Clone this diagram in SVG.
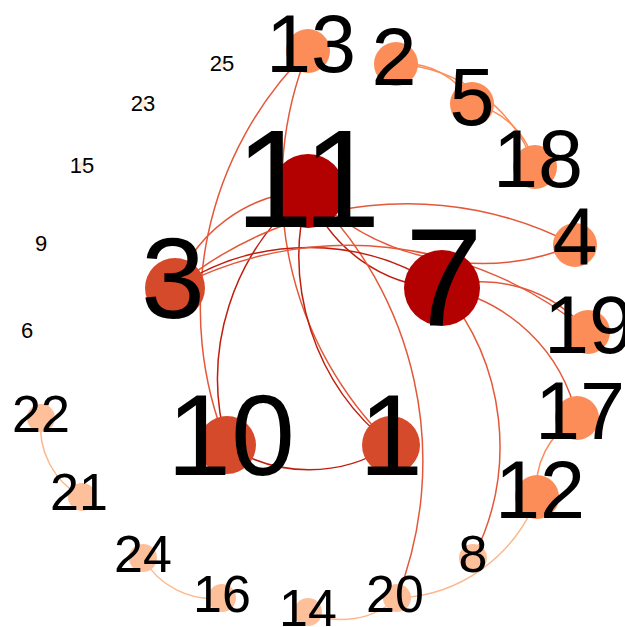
<svg xmlns="http://www.w3.org/2000/svg" width="625" height="627" viewBox="0 0 625 627">
<style>
  .e { fill: none; stroke-width: 1.5; }
  .ed { stroke: #bf1e0e; }
  .em { stroke: #e4583a; }
  .eo { stroke: #fc8d59; }
  .el { stroke: #fdb88c; }
  .n0 { fill: #b30000; }
  .n1 { fill: #d64a2c; }
  .n2 { fill: #fc8d59; }
  .n3 { fill: #fdc09b; }
  .n4 { fill: #fde9d4; }
  text { font-family: "Liberation Sans", Arial, sans-serif; fill: #000; text-anchor: middle; }
  .t0 { font-size: 140px; }
  .t1 { font-size: 115px; }
  .t2 { font-size: 81px; }
  .t3 { font-size: 52px; }
  .t4 { font-size: 22px; }
</style>
<rect width="625" height="627" fill="#fff"/>
<g id="edges">
  <path class="e em" d="M308,51 A362,362 0 0,0 227,445"/>
  <path class="e em" d="M308,51 A362,362 0 0,0 391,445"/>
  <path class="e ed" d="M308,191 A240,240 0 0,0 227,445"/>
  <path class="e ed" d="M308,191 A240,240 0 0,0 391,445"/>
  <path class="e ed" d="M308,191 A149,149 0 0,0 442,288"/>
  <path class="e em" d="M308,191 A148,148 0 0,0 175,288"/>
  <path class="e em" d="M308,191 A245,245 0 0,0 575,245"/>
  <path class="e em" d="M308,191 A375,375 0 0,1 397,598"/>
  <path class="e em" d="M175,288 A362,362 0 0,1 575,245"/>
  <path class="e ed" d="M175,288 A240,240 0 0,1 442,288"/>
  <path class="e em" d="M175,288 A374,374 0 0,1 588,332"/>
  <path class="e em" d="M442,288 A137,137 0 0,1 588,332"/>
  <path class="e em" d="M442,288 A169,169 0 0,1 577,418"/>
  <path class="e em" d="M442,288 A245,245 0 0,1 473,558"/>
  <path class="e ed" d="M227,445 A148,148 0 0,0 391,445"/>
  <path class="e eo" d="M396,64 A77,77 0 0,1 472,104"/>
  <path class="e eo" d="M396,64 A156,156 0 0,1 535,167"/>
  <path class="e eo" d="M472,104 A80,80 0 0,1 535,167"/>
  <path class="e eo" d="M537,497 A80,80 0 0,1 577,418"/>
  <path class="e el" d="M397,598 A155,155 0 0,0 537,497"/>
  <path class="e el" d="M308,612 A81,81 0 0,0 397,598"/>
  <path class="e el" d="M143,558 A80,80 0 0,0 222,598"/>
  <path class="e el" d="M41,418 A80,80 0 0,0 82,497"/>
</g>
<g id="node-25"><circle class="n4" cx="222" cy="64" r="4"/><text class="t4" x="222" y="71">25</text></g>
<g id="node-23"><circle class="n4" cx="143" cy="104" r="4"/><text class="t4" x="143" y="111">23</text></g>
<g id="node-15"><circle class="n4" cx="82" cy="166" r="4"/><text class="t4" x="82" y="173">15</text></g>
<g id="node-9"><circle class="n4" cx="41" cy="244" r="4"/><text class="t4" x="41" y="251">9</text></g>
<g id="node-6"><circle class="n4" cx="27" cy="331" r="4"/><text class="t4" x="27" y="338">6</text></g>
<g id="node-22"><circle class="n3" cx="41" cy="418" r="14"/><text class="t3" x="41" y="432">22</text></g>
<g id="node-21"><circle class="n3" cx="82" cy="497" r="14"/><text class="t3" x="79" y="510">21</text></g>
<g id="node-24"><circle class="n3" cx="143" cy="558" r="14"/><text class="t3" x="143" y="572">24</text></g>
<g id="node-16"><circle class="n3" cx="222" cy="598" r="14"/><text class="t3" x="222" y="612">16</text></g>
<g id="node-14"><circle class="n3" cx="308" cy="612" r="14"/><text class="t3" x="308" y="626">14</text></g>
<g id="node-20"><circle class="n3" cx="397" cy="598" r="14"/><text class="t3" x="395" y="612">20</text></g>
<g id="node-8"><circle class="n3" cx="473" cy="558" r="14"/><text class="t3" x="473" y="572">8</text></g>
<g id="node-12"><circle class="n2" cx="537" cy="497" r="22"/><text class="t2" x="540" y="518">12</text></g>
<g id="node-17"><circle class="n2" cx="577" cy="418" r="22"/><text class="t2" x="580" y="439">17</text></g>
<g id="node-19"><circle class="n2" cx="588" cy="332" r="22"/><text class="t2" x="589" y="353">19</text></g>
<g id="node-4"><circle class="n2" cx="575" cy="245" r="22"/><text class="t2" x="575" y="265">4</text></g>
<g id="node-18"><circle class="n2" cx="535" cy="167" r="22"/><text class="t2" x="538" y="187">18</text></g>
<g id="node-5"><circle class="n2" cx="472" cy="104" r="22"/><text class="t2" x="472" y="125">5</text></g>
<g id="node-2"><circle class="n2" cx="396" cy="64" r="22"/><text class="t2" x="394" y="85">2</text></g>
<g id="node-13"><circle class="n2" cx="308" cy="51" r="22"/><text class="t2" x="311" y="72">13</text></g>
<g id="node-3"><circle class="n1" cx="175" cy="288" r="30"/><text class="t1" x="173" y="318">3</text></g>
<g id="node-10"><circle class="n1" cx="227" cy="445" r="29"/><text class="t1" x="231" y="475">10</text></g>
<g id="node-1"><circle class="n1" cx="391" cy="445" r="29"/><text class="t1" x="391" y="475">1</text></g>
<g id="node-11"><circle class="n0" cx="308" cy="191" r="37"/><text class="t0" x="308" y="227">11</text></g>
<g id="node-7"><circle class="n0" cx="442" cy="288" r="38"/><text class="t0" x="444" y="325">7</text></g>
</svg>
